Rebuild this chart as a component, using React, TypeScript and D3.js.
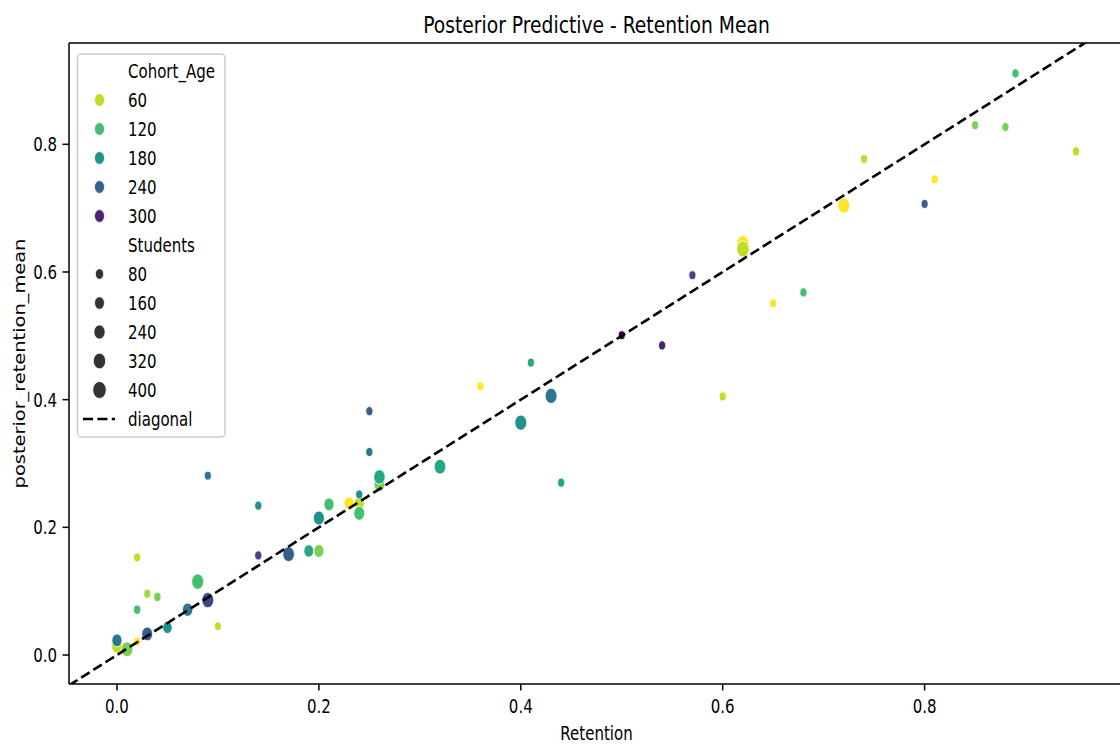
import React from "react";
import * as d3 from "d3";

// observed vs posterior predictive retention, one entry per cohort
const retention = [
  0.0, 0.0, 0.01, 0.02, 0.02, 0.02, 0.03, 0.03, 0.04, 0.05, 0.07, 0.08, 0.09, 0.1,
  0.09, 0.14, 0.14, 0.17, 0.19, 0.2, 0.2, 0.21, 0.24, 0.23, 0.24, 0.24, 0.25, 0.25,
  0.26, 0.26, 0.32, 0.36, 0.4, 0.41, 0.43, 0.44, 0.5, 0.54, 0.57, 0.6, 0.62, 0.62,
  0.65, 0.68, 0.72, 0.74, 0.8, 0.81, 0.85, 0.88, 0.89, 0.95,
];
const posteriorMean = [
  0.014, 0.023, 0.009, 0.021, 0.153, 0.071, 0.096, 0.033, 0.091, 0.043, 0.071, 0.115, 0.086, 0.045,
  0.281, 0.234, 0.156, 0.158, 0.163, 0.163, 0.2145, 0.236, 0.2375, 0.2375, 0.2515, 0.222, 0.318, 0.382,
  0.267, 0.279, 0.295, 0.421, 0.364, 0.458, 0.406, 0.27, 0.501, 0.485, 0.595, 0.405, 0.6445, 0.636,
  0.551, 0.568, 0.704, 0.777, 0.7066, 0.745, 0.83, 0.827, 0.911, 0.789,
];
const cohortAge = [
  60, 210, 90, 30, 60, 120, 75, 240, 90, 180, 210, 120, 270, 60,
  210, 180, 270, 240, 150, 90, 180, 120, 60, 30, 180, 120, 210, 240,
  90, 150, 150, 30, 180, 150, 210, 150, 330, 300, 270, 60, 30, 60,
  30, 120, 30, 60, 240, 30, 90, 90, 120, 60,
];
const students = [
  250, 200, 300, 40, 50, 60, 40, 250, 60, 160, 220, 330, 320, 30,
  40, 50, 50, 300, 180, 200, 260, 200, 200, 200, 50, 250, 50, 50,
  250, 280, 300, 40, 320, 40, 320, 50, 40, 50, 40, 40, 360, 360,
  40, 50, 320, 40, 40, 40, 40, 50, 50, 50,
];

const xTicks = [0, 0.2, 0.4, 0.6, 0.8];
const yTicks = [0, 0.2, 0.4, 0.6, 0.8];
const ageLegend = [60, 120, 180, 240, 300];
const studentLegend = [80, 160, 240, 320, 400];

const W = 1120;
const H = 747;
const SX = 0.79; // the picture is squeezed horizontally
const FONT = "'DejaVu Sans', sans-serif";
const FS = 19;

const Label = ({ x, y, anchor = "start", size = FS, rotate = 0, children }: any) => (
  <text
    transform={`translate(${x},${y}) scale(${SX},1)${rotate ? ` rotate(${rotate})` : ""}`}
    textAnchor={anchor}
    fontFamily={FONT}
    fontSize={size}
    fill="#000"
  >
    {children}
  </text>
);

export default function App() {
  const left = 69, right = 1124, top = 43, bottom = 684;
  const x = d3.scaleLinear().domain([-0.0475, 0.9975]).range([left, right]);
  const y = d3.scaleLinear().domain([-0.0454, 0.9587]).range([bottom, top]);
  const hue = d3.scaleLinear().domain([30, 330]).range([1, 0]);
  const color = (a: number) => d3.interpolateViridis(hue(a));
  const area = d3.scaleLinear().domain([20, 400]).range([17, 68]);
  const radius = (s: number) => Math.sqrt(area(s));

  const pts = retention.map((r, i) => ({
    r, p: posteriorMean[i], age: cohortAge[i], n: students[i],
  }));

  const rows = [
    { label: "Cohort_Age" },
    ...ageLegend.map((a) => ({ label: String(a), fill: color(a), rr: 6.4 })),
    { label: "Students" },
    ...studentLegend.map((s) => ({ label: String(s), fill: "#333333", rr: radius(s) + 0.3 })),
    { label: "diagonal", dash: true },
  ];

  return (
    <svg width={W} height={H} style={{ position: "absolute", left: 0, top: 0 }}>
      <rect width={W} height={H} fill="#fff" />
      <defs>
        <clipPath id="plot">
          <rect x={left} y={top} width={right - left} height={bottom - top} />
        </clipPath>
      </defs>

      <g clipPath="url(#plot)">
        {pts.map((d, i) => (
          <ellipse
            key={i}
            cx={x(d.r)}
            cy={y(d.p)}
            rx={radius(d.n) * SX}
            ry={radius(d.n)}
            fill={color(d.age)}
            stroke="#fff"
            strokeWidth={0.8}
          />
        ))}
        <line
          x1={x(-0.0475)}
          y1={y(-0.0475)}
          x2={x(0.9975)}
          y2={y(0.9975)}
          stroke="#000"
          strokeWidth={2.6}
          strokeDasharray="10 4.4"
        />
      </g>

      {/* spines */}
      <line x1={left} x2={left} y1={top} y2={bottom} stroke="#000" strokeWidth={1.5} />
      <line x1={left} x2={right} y1={bottom} y2={bottom} stroke="#000" strokeWidth={1.5} />
      <line x1={left} x2={right} y1={top} y2={top} stroke="#000" strokeWidth={1.6} />
      <line x1={right} x2={right} y1={top} y2={bottom} stroke="#000" strokeWidth={1.5} />

      {xTicks.map((t) => (
        <g key={"x" + t}>
          <line x1={x(t)} x2={x(t)} y1={bottom} y2={bottom + 6.5} stroke="#000" strokeWidth={1.5} />
          <Label x={x(t)} y={713} anchor="middle">{t.toFixed(1)}</Label>
        </g>
      ))}
      {yTicks.map((t) => (
        <g key={"y" + t}>
          <line x1={left - 6.5} x2={left} y1={y(t)} y2={y(t)} stroke="#000" strokeWidth={1.5} />
          <Label x={57} y={y(t) + 7} anchor="end">{t.toFixed(1)}</Label>
        </g>
      ))}

      <Label x={(left + right) / 2} y={33} anchor="middle" size={23.7}>
        Posterior Predictive - Retention Mean
      </Label>
      <Label x={(left + right) / 2} y={740} anchor="middle">Retention</Label>
      <Label x={25} y={(top + bottom) / 2} anchor="middle" rotate={-90} size={19.4}>
        posterior_retention_mean
      </Label>

      {/* legend */}
      <rect x={77.5} y={54} width={147.5} height={383} rx={4} fill="#fff" fillOpacity={0.8} stroke="#cccccc" strokeWidth={1.5} />
      {rows.map((row: any, i) => {
        const ry = 71 + i * 29;
        return (
          <g key={"l" + i}>
            {row.fill && (
              <ellipse cx={99.5} cy={ry} rx={row.rr * SX} ry={row.rr} fill={row.fill} stroke="#fff" strokeWidth={0.8} />
            )}
            {row.dash && (
              <line x1={83} x2={115} y1={ry} y2={ry} stroke="#000" strokeWidth={2.6} strokeDasharray="10 4.4" />
            )}
            <Label x={128} y={ry + 7}>{row.label}</Label>
          </g>
        );
      })}
    </svg>
  );
}
